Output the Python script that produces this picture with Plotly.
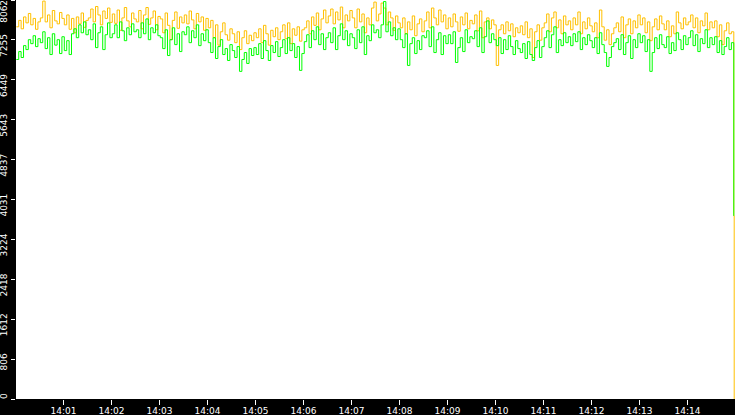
import pandas as pd
import plotly.graph_objects as go

# samples every 3 s from 14:00:01, then the cut-off at the end
SAMPLE_START = "2024-01-01 14:00:01"
N_SAMPLES = 299
END_TIME = pd.Timestamp("2024-01-01 14:14:58")

# yellow series, 10 samples per 30 s block
yellow_blocks = [
    [7520, 7650, 7480, 7720, 7600, 7790, 7560, 7690, 7470, 7620],
    [7700, 8040, 7620, 7760, 7500, 7850, 7640, 7580, 7810, 7690],
    [7560, 7760, 7470, 7690, 7400, 7720, 7580, 7800, 7510, 7650],
    [7700, 7880, 7620, 7930, 7760, 7560, 7840, 7690, 7900, 7610],
    [7780, 7590, 7860, 7450, 7700, 7910, 7640, 7520, 7800, 7680],
    [7620, 7850, 7480, 7760, 7910, 7570, 7700, 7840, 7460, 7730],
    [7680, 7400, 7800, 7550, 7260, 7650, 7820, 7490, 7720, 7600],
    [7760, 7580, 7840, 7660, 7480, 7790, 7620, 7720, 7450, 7690],
    [7500, 7650, 7300, 7560, 7150, 7420, 7600, 7360, 7250, 7480],
    [7380, 7200, 7420, 7060, 7300, 7440, 7180, 7350, 7240, 7400],
    [7300, 7480, 7200, 7550, 7380, 7150, 7450, 7320, 7500, 7260],
    [7420, 7560, 7280, 7600, 7180, 7480, 7350, 7520, 7230, 7460],
    [7500, 7640, 7380, 7720, 7550, 7800, 7460, 7680, 7860, 7600],
    [7740, 7880, 7580, 7820, 7660, 7920, 7500, 7760, 7640, 7850],
    [7700, 7500, 7880, 7620, 7780, 7400, 7700, 7560, 7900, 8020],
    [7640, 7780, 8000, 7900, 7560, 7820, 7700, 7450, 7740, 7600],
    [7500, 7700, 7380, 7620, 7460, 7740, 7340, 7580, 7680, 7420],
    [7640, 7820, 7500, 7900, 7700, 7560, 7860, 7620, 7760, 7480],
    [7700, 7520, 7780, 7620, 7430, 7720, 7560, 7800, 7480, 7650],
    [7580, 7760, 7440, 7840, 7300, 7620, 7700, 7480, 7660, 7560],
    [6740, 7460, 7560, 7380, 7620, 7440, 7580, 7320, 7500, 7400],
    [7540, 7360, 7620, 7300, 7480, 6900, 7420, 7560, 7250, 7500],
    [7600, 7780, 7420, 7700, 7820, 7500, 7660, 7380, 7740, 7560],
    [7640, 7460, 7700, 7560, 7820, 7380, 7620, 7480, 7700, 7540],
    [7420, 7600, 7300, 7860, 7520, 7250, 7460, 7160, 7380, 7500],
    [7600, 7420, 7720, 7300, 7560, 7680, 7380, 7640, 7500, 7760],
    [7560, 7700, 7400, 7620, 7240, 7520, 7680, 7460, 7740, 7580],
    [7460, 7640, 7320, 7540, 7380, 7820, 7600, 7480, 7700, 7560],
    [7620, 7760, 7500, 7700, 7400, 7640, 7540, 7800, 7460, 7620],
    [7500, 7640, 7320, 7560, 7160, 7440, 7600, 7380, 7420],
]
yellow_tail = [3700, 0]

# green series
green_blocks = [
    [6860, 7020, 6900, 7140, 7060, 7260, 7180, 7340, 7120, 7280],
    [7200, 7420, 7080, 7300, 6960, 7380, 7150, 7260, 6980, 7320],
    [7040, 7240, 6960, 7380, 7480, 7300, 7560, 7400, 7620, 7360],
    [7460, 7260, 7580, 7100, 7400, 7520, 7060, 7360, 7600, 7300],
    [7380, 7560, 7300, 7620, 7440, 7240, 7500, 7360, 7580, 7420],
    [7460, 7300, 7600, 7380, 7680, 7260, 7500, 7400, 7560, 7340],
    [7300, 7080, 7460, 6940, 7260, 7500, 7160, 7380, 7020, 7420],
    [7360, 7520, 7200, 7440, 7300, 7560, 7140, 7380, 7240, 7460],
    [7200, 7000, 7300, 6880, 7120, 7260, 6960, 7080, 6840, 7160],
    [7040, 6900, 7120, 6620, 6860, 7000, 6780, 7080, 6940, 7100],
    [6960, 7180, 6880, 7240, 7040, 6840, 7140, 7000, 7220, 6920],
    [7100, 7260, 6980, 7300, 7040, 7180, 6900, 7120, 6640, 6980],
    [7220, 7360, 7100, 7440, 7260, 7520, 7160, 7380, 7060, 7300],
    [7400, 7200, 7500, 7060, 7340, 7580, 7260, 7440, 7140, 7380],
    [7300, 7080, 7460, 7200, 7520, 6960, 7340, 7240, 7560, 7400],
    [7460, 7300, 7560, 8030, 7420, 7620, 7340, 7500, 7260, 7480],
    [7260, 7100, 7380, 6740, 7180, 7300, 6980, 7240, 7060, 7340],
    [7300, 7440, 7120, 7520, 7000, 7260, 7400, 6960, 7340, 7180],
    [7360, 7180, 7420, 6800, 7100, 7300, 7020, 7460, 7200, 7320],
    [7280, 7440, 7120, 7500, 7000, 7320, 7640, 7200, 7380, 7260],
    [7140, 7300, 6980, 7260, 7060, 7340, 7120, 6960, 7240, 7080],
    [7000, 7180, 6880, 7220, 6960, 6840, 7100, 7240, 6900, 7120],
    [7300, 7440, 7100, 7360, 7520, 7000, 7260, 7140, 7400, 7200],
    [7320, 7140, 7380, 7220, 7420, 7060, 7300, 7160, 7360, 7240],
    [7100, 7300, 6980, 7400, 7160, 7000, 6720, 6900, 7120, 7200],
    [7280, 7060, 7360, 6960, 7200, 7340, 6880, 7260, 7100, 7380],
    [7200, 7340, 7020, 7260, 6620, 7000, 7300, 7080, 7360, 7160],
    [7100, 7320, 6980, 7200, 7040, 7400, 7260, 7060, 7340, 7160],
    [7300, 7440, 7140, 7360, 7020, 7280, 7180, 7460, 7100, 7300],
    [7160, 7320, 7000, 7240, 6960, 7120, 7300, 7060, 7200],
]
green_tail = [3700]

y_tickvals = [0, 806.2, 1612.4, 2418.6, 3224.8, 4031, 4837.2, 5643.4, 6449.6, 7255.8, 8062]
y_ticktext = ["0", "806", "1612", "2418", "3224", "4031", "4837", "5643", "6449", "7255", "8062"]

times = list(pd.date_range(SAMPLE_START, periods=N_SAMPLES, freq="3s"))

yellow = [v for b in yellow_blocks for v in b] + yellow_tail
green = [v for b in green_blocks for v in b] + green_tail
x_yellow = times + [END_TIME, END_TIME + pd.Timedelta("500ms")]
x_green = times + [END_TIME]
assert len(yellow) == len(x_yellow) and len(green) == len(x_green)

# rotated y labels hang below their tick (end-anchored): pad the start with
# figure spaces so every label has the same length; the top one is nudged
# down so it stays inside the window
FIG_SPACE = "\u2007"
y_labels = [t.rjust(4, FIG_SPACE) for t in y_ticktext]
y_labels[-1] = y_labels[-1] + FIG_SPACE * 2

tick_font = dict(family="DejaVu Sans", size=9, color="white")

fig = go.Figure()
fig.add_trace(go.Scatter(x=x_yellow, y=yellow, mode="lines",
                         line=dict(color="#FFC000", width=1, shape="hv")))
fig.add_trace(go.Scatter(x=x_green, y=green, mode="lines",
                         line=dict(color="#00FF00", width=1, shape="hv")))

fig.update_layout(
    template="none",
    width=735, height=415,
    margin=dict(l=16, r=0, t=0, b=16, pad=0),
    paper_bgcolor="black", plot_bgcolor="white",
    showlegend=False,
)
fig.update_xaxes(
    type="date",
    range=["2024-01-01 14:00:00.6", "2024-01-01 14:14:59.5"],
    tick0="2024-01-01 14:00:00", dtick=60000, tickformat="%H:%M",
    ticks="outside", ticklen=5, tickwidth=1, tickcolor="white",
    ticklabelstandoff=-2, ticklabeloverflow="allow",
    tickfont=tick_font, showgrid=False, zeroline=False, showline=False,
    automargin=False,
)
fig.update_yaxes(
    range=[0, 8062],
    tickmode="array", tickvals=y_tickvals, ticktext=y_labels,
    tickangle=-90, ticklabelshift=7, ticklabeloverflow="allow",
    ticks="outside", ticklen=4, tickwidth=1, tickcolor="white",
    tickfont=tick_font, showgrid=False, zeroline=False, showline=False,
    automargin=False,
)

# page body has an 8px default margin; drop it so the chart fills the window
fig.write_html("out.html", config={"displayModeBar": False},
               post_script="document.body.style.margin = '0';")
